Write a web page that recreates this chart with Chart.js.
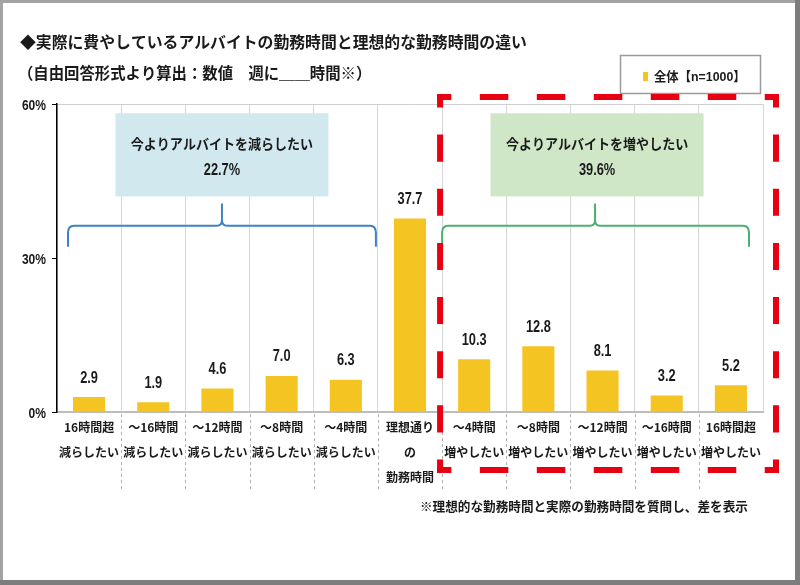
<!DOCTYPE html>
<html>
<head>
<meta charset="utf-8">
<script src="https://cdn.jsdelivr.net/npm/chart.js@4.4.1/dist/chart.umd.min.js"></script>
<style>
  html, body { margin: 0; padding: 0; background: #8f8f8f; }
  canvas { display: block; }
</style>
</head>
<body>
<canvas id="c" width="800" height="585"></canvas>
<script>
// ---- data ----
const categories = [
  ['16時間超', '減らしたい'],
  ['～16時間', '減らしたい'],
  ['～12時間', '減らしたい'],
  ['～8時間', '減らしたい'],
  ['～4時間', '減らしたい'],
  ['理想通り', 'の', '勤務時間'],
  ['～4時間', '増やしたい'],
  ['～8時間', '増やしたい'],
  ['～12時間', '増やしたい'],
  ['～16時間', '増やしたい'],
  ['16時間超', '増やしたい']
];
const values = [2.9, 1.9, 4.6, 7.0, 6.3, 37.7, 10.3, 12.8, 8.1, 3.2, 5.2];
const yTicks = [0, 30, 60];
const seriesName = '全体【n=1000】';
const titleLines = ['◆実際に費やしているアルバイトの勤務時間と理想的な勤務時間の違い', '（自由回答形式より算出：数値　週に＿＿時間※）'];
const groupLabels = ['今よりアルバイトを減らしたい', '今よりアルバイトを増やしたい'];
const groupTotals = ['22.7%', '39.6%'];
const footnote = '※理想的な勤務時間と実際の勤務時間を質問し、差を表示';

const JP = "'Noto Sans CJK JP', sans-serif";
const NUM = "'Liberation Sans', 'Noto Sans CJK JP', sans-serif";
const BAR = '#F4C422';
const TXT = '#1a1a1a';

function txt(ctx, s, x, y, font, color, align, sx) {
  ctx.save();
  ctx.font = font;
  ctx.fillStyle = color;
  ctx.textAlign = align || 'left';
  ctx.textBaseline = 'middle';
  ctx.translate(x, y);
  ctx.scale(sx || 1, 1);
  ctx.fillText(s, 0, 0);
  ctx.restore();
}

function dashedSide(ctx, x1, y1, x2, y2) {
  const L = Math.hypot(x2 - x1, y2 - y1);
  const n = Math.max(1, Math.round(L / 56));
  const p = L / n;
  ctx.setLineDash([p / 2, p / 2]);
  ctx.lineDashOffset = p / 4;
  ctx.beginPath();
  ctx.moveTo(x1, y1);
  ctx.lineTo(x2, y2);
  ctx.stroke();
}

const framePlugin = {
  id: 'frame',
  beforeDraw(chart) {
    const ctx = chart.ctx;
    ctx.save();
    ctx.fillStyle = '#a3a3a3';
    ctx.fillRect(0, 0, 800, 585);
    ctx.fillStyle = '#7d7d7d';
    ctx.fillRect(795, 0, 5, 585);
    ctx.fillRect(0, 580, 800, 5);
    ctx.fillStyle = '#ffffff';
    ctx.fillRect(3, 3, 792, 577);
    ctx.restore();
  }
};

const decorPlugin = {
  id: 'decor',
  beforeDatasetsDraw(chart) {
    const ctx = chart.ctx;
    const xs = chart.scales.x, ys = chart.scales.y;
    const ca = chart.chartArea;
    const step = (ca.right - ca.left) / categories.length;
    // dashed separators below axis
    ctx.save();
    ctx.strokeStyle = '#b0b0b0';
    ctx.lineWidth = 1;
    ctx.setLineDash([3, 3]);
    for (let i = 1; i < categories.length; i++) {
      const x = Math.round(ca.left + step * i) + 0.5;
      ctx.beginPath();
      ctx.moveTo(x, ca.bottom + 2);
      ctx.lineTo(x, ca.bottom + 79);
      ctx.stroke();
    }
    ctx.restore();

    // y tick labels (from the y scale)
    ys.ticks.forEach(t => {
      txt(ctx, t.value + '%', 46, ys.getPixelForValue(t.value) + 2, "bold 14px " + NUM, TXT, 'right', 0.86);
    });

    // group boxes
    const boxTop = ys.getPixelForValue(58.2), boxBot = ys.getPixelForValue(42.0);
    const groups = [
      { cx: xs.getPixelForValue(2) + 4.5, fill: '#D0E8EE', stroke: '#3F82C4', l: ca.left + 11, r: ca.left + step * 5 - 2, tip: xs.getPixelForValue(2) + 4.5 },
      { cx: xs.getPixelForValue(8) - 5.5, fill: '#CFE6C7', stroke: '#4DB071', l: ca.left + step * 6, r: ca.right - 14, tip: xs.getPixelForValue(8) - 7.5 }
    ];
    groups.forEach((g, i) => {
      const w = 213;
      ctx.save();
      ctx.fillStyle = g.fill;
      ctx.fillRect(g.cx - w / 2, boxTop, w, boxBot - boxTop);
      ctx.restore();
      txt(ctx, groupLabels[i], g.cx, boxTop + 30, "bold 14px " + JP, TXT, 'center', 0.93);
      txt(ctx, groupTotals[i], g.cx, boxTop + 57, "bold 16px " + NUM, TXT, 'center', 0.8);
      // brace
      const yH = ys.getPixelForValue(36.3), yTip = ys.getPixelForValue(40.6), yEnd = ys.getPixelForValue(32.2);
      ctx.save();
      ctx.strokeStyle = g.stroke;
      ctx.lineWidth = 2;
      ctx.beginPath();
      ctx.moveTo(g.l, yEnd);
      ctx.lineTo(g.l, yH + 7);
      ctx.quadraticCurveTo(g.l, yH, g.l + 6, yH);
      ctx.lineTo(g.tip - 5, yH);
      ctx.quadraticCurveTo(g.tip, yH, g.tip, yH - 6);
      ctx.lineTo(g.tip, yTip);
      ctx.moveTo(g.tip, yH - 6);
      ctx.quadraticCurveTo(g.tip, yH, g.tip + 5, yH);
      ctx.lineTo(g.r - 6, yH);
      ctx.quadraticCurveTo(g.r, yH, g.r, yH + 7);
      ctx.lineTo(g.r, yEnd);
      ctx.stroke();
      ctx.restore();
    });
  },
  afterDatasetsDraw(chart) {
    const ctx = chart.ctx;
    const meta = chart.getDatasetMeta(0);
    meta.data.forEach((bar, i) => {
      txt(ctx, values[i].toFixed(1), bar.x, bar.y - 19, "bold 16px " + NUM, TXT, 'center', 0.8);
    });
  },
  afterDraw(chart) {
    const ctx = chart.ctx;
    const ca = chart.chartArea;
    const step = (ca.right - ca.left) / categories.length;
    // titles
    txt(ctx, titleLines[0], 20, 42, "bold 16px " + JP, TXT, 'left', 0.99);
    txt(ctx, titleLines[1], 18, 73, "bold 16px " + JP, TXT, 'left', 0.96);
    // legend
    ctx.save();
    ctx.fillStyle = '#fff';
    ctx.fillRect(620, 55, 140, 38);
    ctx.strokeStyle = '#9a9a9a';
    ctx.lineWidth = 1.5;
    ctx.strokeRect(620.5, 55.5, 140, 38);
    ctx.fillStyle = BAR;
    ctx.fillRect(643, 72, 5, 9);
    ctx.restore();
    txt(ctx, seriesName, 654, 77, "bold 13px " + NUM, TXT, 'left', 0.95);
    // red dashed box
    const lx = ca.left + step * 6 - 2, rx = 776, ty = 97, by = 470;
    ctx.save();
    ctx.strokeStyle = '#E60012';
    ctx.lineWidth = 6;
    ctx.lineCap = 'butt';
    dashedSide(ctx, lx - 3, ty, rx + 3, ty);
    dashedSide(ctx, lx - 3, by, rx + 3, by);
    dashedSide(ctx, lx, ty - 3, lx, by + 3);
    dashedSide(ctx, rx, ty - 3, rx, by + 3);
    ctx.restore();
    // footnote
    txt(ctx, footnote, 420, 506, "bold 13px " + JP, TXT, 'left', 0.97);
  }
};

new Chart(document.getElementById('c'), {
  type: 'bar',
  data: {
    labels: categories,
    datasets: [{
      label: seriesName,
      data: values,
      backgroundColor: BAR,
      borderWidth: 0,
      barPercentage: 0.5,
      categoryPercentage: 1.0
    }]
  },
  options: {
    responsive: false,
    animation: false,
    devicePixelRatio: 1,
    layout: { padding: { left: 0, right: 37, top: 104, bottom: 93 } },
    plugins: { legend: { display: false }, title: { display: false }, tooltip: { enabled: false } },
    scales: {
      x: {
        afterFit(s) { s.height = 80; },
        grid: { offset: true, color: '#d6d6d6', lineWidth: 1, drawTicks: false },
        border: { color: '#bdbdbd', width: 2 },
        ticks: {
          autoSkip: false, maxRotation: 0, minRotation: 0, padding: 3,
          color: TXT,
          font: { family: JP, size: 12, weight: 'bold', lineHeight: 2.08 }
        }
      },
      y: {
        min: 0, max: 60,
        afterFit(s) { s.width = 57; },
        afterBuildTicks(s) { s.ticks = yTicks.map(v => ({ value: v })); },
        grid: {
          color: (c) => (c.tick && c.tick.value === 60 ? '#cfcfcf' : 'rgba(0,0,0,0)'),
          tickColor: '#000', tickLength: 5, drawTicks: true
        },
        border: { color: '#000', width: 1.5 },
        ticks: { display: false }
      }
    }
  },
  plugins: [framePlugin, decorPlugin]
});
</script>
</body>
</html>
